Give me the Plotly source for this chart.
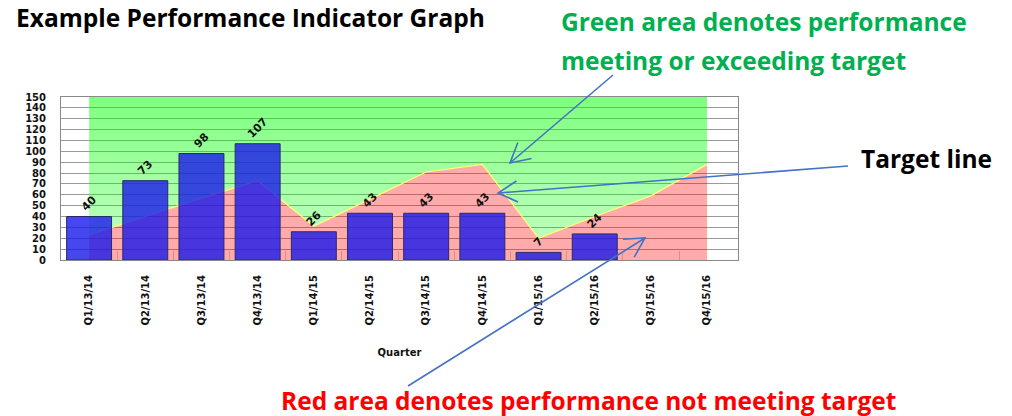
import math
import plotly.graph_objects as go

quarters = ["Q1/13/14", "Q2/13/14", "Q3/13/14", "Q4/13/14", "Q1/14/15", "Q2/14/15",
            "Q3/14/15", "Q4/14/15", "Q1/15/16", "Q2/15/16", "Q3/15/16", "Q4/15/16"]
actual = [40, 73, 98, 107, 26, 43, 43, 43, 7, 24, None, None]
target = [23, 40, 57, 73, 31, 56, 81, 88, 20, 40, 59, 88]
y_max = 150
y_ticks = list(range(0, 151, 10))

W, H = 1012, 416
L, R, T, B = 61, 738, 97, 260
xi = list(range(len(quarters)))
x_range = [-0.5, 11.55]

def px(x):
    return (x - L) / (R - L)

def py(y):
    return (B - y) / (B - T)

fig = go.Figure()

# red area (below target)
fig.add_trace(go.Scatter(x=xi, y=target, mode="lines",
                         line=dict(color="#ffff70", width=1.2),
                         fill="tozeroy", fillcolor="rgba(255,0,0,0.33)",
                         hoverinfo="skip", showlegend=False))
# green area (above target)
fig.add_trace(go.Scatter(x=xi, y=[y_max] * len(xi), mode="lines",
                         line=dict(width=0, color="rgba(0,0,0,0)"),
                         fill="tonexty",
                         fillgradient=dict(type="vertical",
                                           colorscale=[[0, "rgba(0,255,0,0.26)"],
                                                       [1, "rgba(0,255,0,0.5)"]]),
                         hoverinfo="skip", showlegend=False))

# bars on overlaid axes so they are drawn above the areas
fig.add_trace(go.Bar(x=xi, y=actual, width=0.8, xaxis="x2", yaxis="y2",
                     marker=dict(color="rgba(25,25,235,0.8)",
                                 line=dict(color="#2a2a6a", width=1)),
                     text=[("" if v is None else str(v)) for v in actual],
                     textposition="outside", textangle=-45,
                     textfont=dict(family="DejaVu Sans", size=11, color="#111111", weight="bold"),
                     cliponaxis=False, showlegend=False))

fig.update_layout(
    width=W, height=H,
    margin=dict(l=L, r=W - R, t=T, b=H - B, autoexpand=False),
    paper_bgcolor="white", plot_bgcolor="white",
    font=dict(family="DejaVu Sans"),
    xaxis2=dict(overlaying="x", range=x_range, visible=False),
    yaxis2=dict(overlaying="y", range=[0, y_max], visible=False),
)
fig.layout.xaxis.update(range=x_range, tickvals=xi, ticktext=quarters, tickangle=-90,
                 tickfont=dict(family="DejaVu Sans", size=10, color="#111111", weight="bold"),
                 ticks="", ticklabelstandoff=10, showgrid=False, zeroline=False,
                 showline=True, linecolor="#888888", linewidth=1, mirror=True,
                 minor=dict(tickvals=[i + 0.5 for i in xi[:-1]], ticks="inside", ticklen=9,
                            tickcolor="rgba(190,110,110,0.5)", tickwidth=1),
                 title=dict(text="<b>Quarter</b>", standoff=24,
                            font=dict(family="DejaVu Sans", size=10, color="#111111")))
fig.layout.yaxis.update(range=[0, y_max], tickvals=y_ticks,
                 tickfont=dict(family="DejaVu Sans", size=10, color="#111111", weight="bold"),
                 ticklabelstandoff=12, showgrid=True, gridcolor="#9a9a9a", gridwidth=1,
                 zeroline=False, showline=True, linecolor="#888888", linewidth=1, mirror=True)

TXT = "Open Sans"
notes = [
    ("Example Performance Indicator Graph", 14, 18, "#000000"),
    ("Green area denotes performance", 559, 21, "#00b050"),
    ("meeting or exceeding target", 559, 61, "#00b050"),
    ("Target line", 859, 158, "#000000"),
    ("Red area denotes performance not meeting target", 279, 400, "#ff0000"),
]
for text, x, y, c in notes:
    fig.add_annotation(text="<b>" + text + "</b>", x=px(x), y=py(y), xref="paper", yref="paper",
                       xanchor="left", yanchor="middle", showarrow=False,
                       font=dict(family=TXT, size=24.5, color=c))

arrows = [((613, 75), (510, 163)), ((848, 166), (498, 193)), ((408, 386), (645, 238))]
AC = "#4472c4"
for (sx, sy), (tx, ty) in arrows:
    fig.add_shape(type="line", xref="paper", yref="paper", x0=px(sx), y0=py(sy), x1=px(tx), y1=py(ty),
                  line=dict(color=AC, width=1.6))
    ang = math.atan2(sy - ty, sx - tx)
    pts = []
    for d in (-0.5, 0.5):
        a = ang + d
        pts.append((tx + 22 * math.cos(a), ty + 22 * math.sin(a)))
    path = "M {} {} L {} {} L {} {}".format(px(pts[0][0]), py(pts[0][1]), px(tx), py(ty),
                                           px(pts[1][0]), py(pts[1][1]))
    fig.add_shape(type="path", xref="paper", yref="paper", path=path,
                  line=dict(color=AC, width=1.6))

fig.write_html("out.html", config={"displayModeBar": False},
               post_script="document.body.style.margin='0px';")
